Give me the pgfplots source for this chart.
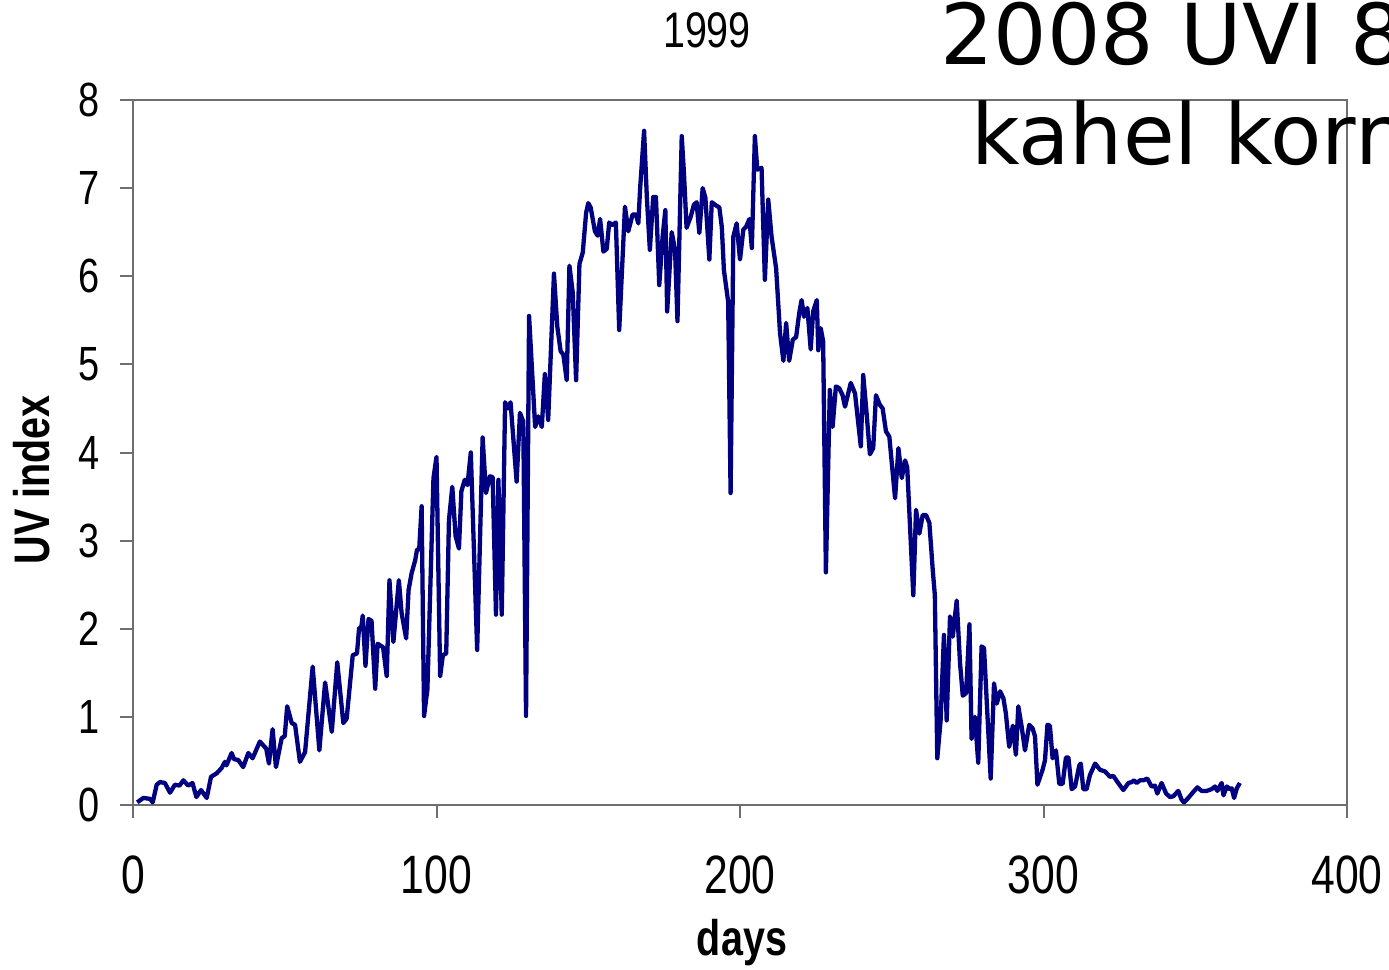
\documentclass[border=0pt]{standalone}
\usepackage{fontspec}
\usepackage{pgfplots}
\pgfplotsset{compat=1.18}
\setmainfont{Liberation Sans}
\newfontfamily\labfont[FakeStretch=0.79]{Liberation Sans}
\newfontfamily\overlayfont{DejaVu Sans}
\definecolor{uvline}{RGB}{0,0,128}
\definecolor{axisgray}{RGB}{110,110,110}

\begin{document}
\begin{tikzpicture}
\begin{axis}[
    scale only axis,
    width=1214pt, height=705pt,
    at={(0pt,0pt)}, anchor=origin,
    xmin=0, xmax=400, ymin=0, ymax=8,
    xtick={0,100,200,300,400},
    ytick={0,1,2,3,4,5,6,7,8},
    tick align=outside,
    major tick length=13pt,
    axis line style={draw=axisgray, line width=2.5pt},
    tick style={draw=axisgray, line width=2pt},
    xtick pos=bottom, ytick pos=left,
    xticklabel style={font=\labfont\fontsize{54}{54}\selectfont, anchor=north, inner sep=0pt, yshift=-38pt},
    yticklabel style={font=\labfont\fontsize{48}{48}\selectfont, anchor=east, inner sep=0pt, xshift=-20pt},
    /pgf/number format/assume math mode=true,
    clip=false,
]
\addplot[draw=uvline, line width=4.3pt, line join=round] table {
x y
1.4 0.03
3.4 0.08
5.6 0.07
6.5 0.03
7.8 0.23
8.9 0.26
10.5 0.25
12.2 0.14
13.8 0.23
15.3 0.22
16.6 0.28
18.2 0.22
19.6 0.25
20.9 0.09
22.4 0.17
24.3 0.08
25.7 0.32
27.6 0.36
29.2 0.42
30.3 0.49
30.8 0.45
32.5 0.59
33.3 0.52
34.7 0.51
36.3 0.43
38.0 0.59
39.4 0.53
41.8 0.72
43.9 0.64
44.8 0.47
46.0 0.86
47.1 0.43
49.0 0.76
50.0 0.78
50.8 1.12
52.3 0.93
53.4 0.91
55.0 0.49
56.7 0.60
59.2 1.57
61.4 0.62
63.3 1.39
65.5 0.83
67.3 1.62
69.3 0.93
70.4 0.98
72.4 1.70
73.8 1.72
74.5 2.01
75.2 2.01
75.7 2.15
76.6 1.58
77.6 2.11
78.6 2.09
79.8 1.32
80.6 1.83
82.4 1.79
83.6 1.46
84.5 2.55
85.8 1.85
87.6 2.55
88.5 2.18
90.0 1.89
90.8 2.44
91.8 2.63
93.0 2.78
93.6 2.90
94.3 2.90
95.1 3.39
95.9 1.01
97.0 1.31
99.0 3.71
100.0 3.95
101.2 1.46
102.1 1.70
103.2 1.72
104.1 3.23
105.2 3.61
106.3 3.05
107.4 2.91
108.2 3.56
109.3 3.69
110.2 3.63
111.3 4.00
113.4 1.76
115.2 4.17
116.3 3.54
117.6 3.73
118.5 3.72
119.6 2.16
120.4 3.69
121.5 2.16
122.6 4.57
123.6 4.50
124.4 4.57
126.4 3.67
127.5 4.45
128.6 4.35
129.5 1.01
130.5 5.55
132.5 4.29
133.5 4.41
134.7 4.29
135.7 4.89
136.8 4.37
138.7 6.03
139.8 5.43
140.9 5.15
141.8 5.11
142.9 4.82
143.8 6.12
144.9 5.81
146.0 4.82
147.1 6.14
148.2 6.27
149.3 6.72
150.0 6.83
150.8 6.78
152.2 6.51
153.1 6.46
153.9 6.65
155.0 6.28
156.1 6.31
156.9 6.61
157.8 6.58
159.1 6.61
160.2 5.39
162.1 6.79
163.2 6.51
164.6 6.70
165.7 6.70
166.5 6.60
167.1 7.00
168.4 7.65
169.3 6.90
170.3 6.30
171.4 6.90
172.3 6.90
173.4 5.90
174.5 6.45
175.4 6.75
176.0 5.60
177.5 6.50
178.6 6.30
179.4 5.49
180.8 7.59
181.5 7.19
182.4 6.55
183.8 6.68
184.8 6.81
185.7 6.84
186.6 6.49
187.7 7.00
188.6 6.89
189.9 6.19
190.7 6.84
191.8 6.81
193.2 6.78
194.0 6.56
194.7 6.07
196.1 5.71
196.9 3.54
197.8 6.45
198.9 6.60
200.0 6.19
201.1 6.53
202.0 6.56
203.1 6.65
203.9 6.32
204.9 7.59
205.7 7.21
207.1 7.23
208.2 5.96
209.3 6.87
210.4 6.45
211.9 6.09
213.2 5.35
214.3 5.04
215.2 5.47
216.2 5.04
217.4 5.28
218.5 5.31
219.5 5.58
220.3 5.73
221.1 5.54
222.2 5.64
223.3 5.17
224.1 5.60
225.3 5.73
225.8 5.16
226.6 5.41
227.4 5.26
228.3 2.64
229.6 4.71
230.5 4.29
231.6 4.75
232.7 4.73
233.8 4.65
234.6 4.52
236.5 4.79
237.9 4.67
239.8 4.07
240.6 4.88
241.7 4.45
242.8 3.98
243.9 4.05
244.8 4.65
246.1 4.54
247.0 4.50
248.1 4.24
249.2 4.18
251.1 3.48
252.2 4.05
253.3 3.71
254.4 3.91
255.1 3.83
257.1 2.38
258.0 3.35
259.1 3.08
260.2 3.29
261.3 3.29
262.4 3.20
263.5 2.67
264.2 2.38
265.0 0.53
266.1 0.96
267.2 1.93
268.1 0.96
269.2 2.14
270.1 1.91
271.4 2.32
272.5 1.61
273.4 1.24
274.5 1.27
275.6 2.05
276.3 0.75
277.4 1.00
278.5 0.48
279.6 1.80
280.4 1.78
282.6 0.30
283.7 1.38
284.6 1.15
285.7 1.29
286.8 1.21
287.6 1.04
288.7 0.66
289.9 0.90
290.9 0.57
291.7 1.12
292.8 0.89
293.9 0.62
295.3 0.91
296.4 0.87
297.2 0.78
298.0 0.23
299.7 0.40
300.5 0.51
301.3 0.91
302.1 0.90
303.0 0.53
304.1 0.62
305.2 0.24
306.3 0.24
307.4 0.54
308.2 0.54
309.3 0.18
310.4 0.21
311.8 0.45
312.3 0.47
313.1 0.18
314.2 0.18
315.3 0.34
317.0 0.47
318.6 0.40
320.3 0.38
321.9 0.32
323.0 0.33
324.6 0.25
326.3 0.17
328.0 0.25
329.1 0.26
329.8 0.28
330.7 0.25
331.8 0.28
332.9 0.28
334.2 0.30
335.6 0.21
336.7 0.22
337.5 0.13
338.9 0.25
340.4 0.13
341.7 0.09
342.8 0.10
344.4 0.16
345.5 0.06
346.3 0.03
347.7 0.08
349.4 0.15
350.7 0.20
352.1 0.16
353.8 0.16
355.4 0.18
356.5 0.21
357.3 0.16
358.2 0.22
358.7 0.25
359.3 0.11
360.4 0.21
361.4 0.18
362.0 0.19
362.8 0.08
363.7 0.19
364.7 0.25
};
\end{axis}
% titles and labels, placed in pt relative to the axis origin
\node[font=\labfont\fontsize{50}{50}\selectfont, anchor=base, inner sep=0pt] at (574pt,757pt) {1999};
\node[font=\labfont\bfseries\fontsize{50}{50}\selectfont, anchor=base, inner sep=0pt] at (609pt,-150pt) {days};
\node[font=\labfont\bfseries\fontsize{50}{50}\selectfont, anchor=base, inner sep=0pt, rotate=90] at (-83pt,325pt) {UV index};
\node[font=\overlayfont\fontsize{84}{84}\selectfont, anchor=base west, inner sep=0pt] at (807pt,740pt) {2008 UVI 8};
\node[font=\overlayfont\fontsize{84}{84}\selectfont, anchor=base west, inner sep=0pt] at (838pt,640pt) {kahel korr};
\pgfresetboundingbox
\useasboundingbox (-133pt,-164pt) rectangle (1256pt,805pt);
\end{tikzpicture}
\end{document}
